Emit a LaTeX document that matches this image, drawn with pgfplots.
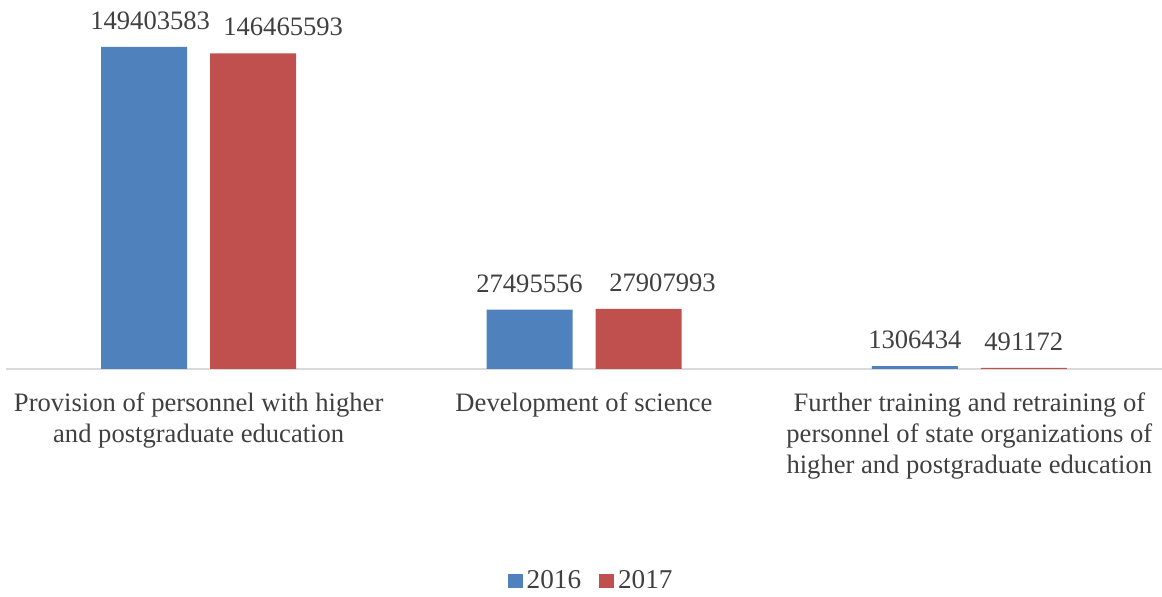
\documentclass[border=0pt]{standalone}
\usepackage{fontspec}
\setmainfont{Liberation Serif}
\usepackage{pgfplots}
\pgfplotsset{compat=1.18}
\definecolor{bblue}{HTML}{4F81BD}
\definecolor{bred}{HTML}{C0504D}
\definecolor{txt}{HTML}{404040}
\definecolor{axgray}{HTML}{D9D9D9}
\begin{document}
\fontsize{13.3pt}{15.5pt}\selectfont
\begin{tikzpicture}
\begin{axis}[
    name=ax,
    scale only axis,
    width=578pt, height=184.5pt,
    ybar=11.5pt, bar width=43pt,
    xmin=-0.5, xmax=2.5, ymin=0, ymax=171.2e6,
    axis y line=none,
    axis x line*=bottom,
    x axis line style={axgray, line width=0.8pt, -},
    xtick={0,1,2},
    xticklabels={Provision of personnel with higher and postgraduate education,
                 Development of science,
                 Further training and retraining of personnel of state organizations of higher and postgraduate education},
    xticklabel style={text width=200pt, align=flush center, font=\fontsize{13.3pt}{15.5pt}\selectfont, text=txt, yshift=-7.5pt},
    major tick length=0pt,
    point meta=explicit symbolic,
    nodes near coords,
    nodes near coords style={font=\fontsize{13.3pt}{15.5pt}\selectfont, text=txt, yshift=4pt},
    legend style={draw=none, at={(0.507,-0.575)}, anchor=center, legend columns=2,
                  font=\fontsize{13.6pt}{15.5pt}\selectfont, text=txt,
                  /tikz/every even column/.append style={column sep=7pt}},
    legend image code/.code={\fill[#1] (0pt,-3.5pt) rectangle (7.5pt,3.5pt);},
  ]
  \addplot[fill=bblue, draw=none] coordinates {
    (0,149403583) [\hspace*{6pt}149403583]
    (1,27495556) [27495556]
    (2,1306434) [1306434]
  };
  \addplot[fill=bred, draw=none] coordinates {
    (0,146465593) [\hspace*{30pt}146465593]
    (1,27907993) [\hspace*{24pt}27907993]
    (2,491172) [491172]
  };
  \legend{2016,2017}
\end{axis}
\pgfresetboundingbox
\path (ax.south west) ++(-3pt,-114pt) rectangle (ax.north east);
\end{tikzpicture}
\end{document}
